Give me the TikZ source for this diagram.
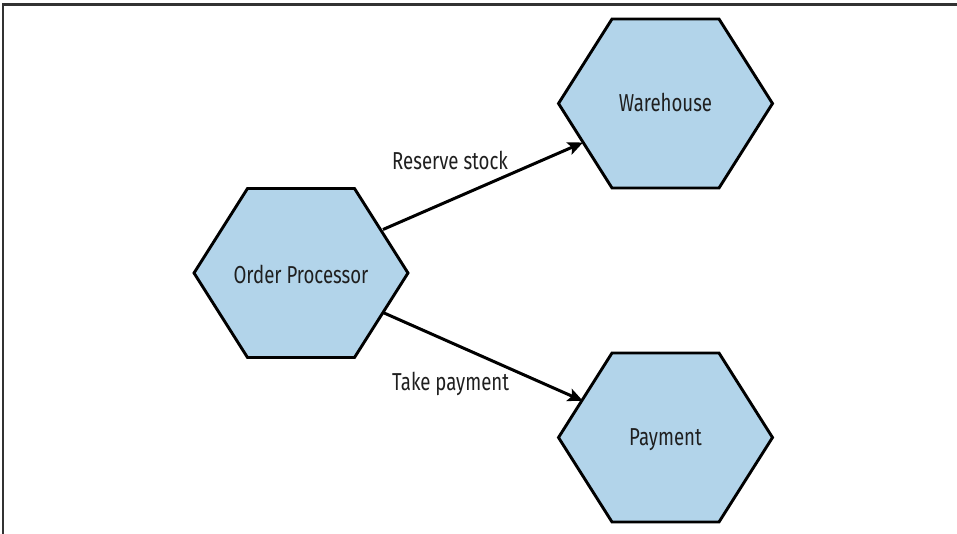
\documentclass[tikz,border=0pt]{standalone}
\usepackage{fontspec}
\setmainfont[FakeStretch=0.76]{Fira Sans}
\usetikzlibrary{arrows.meta}
\definecolor{hexblue}{RGB}{178,212,234}
\definecolor{framegray}{RGB}{50,50,50}
\tikzset{
  hex/.style={draw=black, line width=2.9pt, fill=hexblue, line join=miter},
  lbl/.style={font=\fontsize{24.5}{28}\selectfont, inner sep=0pt, text=black!88},
  conn/.style={line width=3pt, -{Stealth[length=15pt,width=13pt,inset=3pt]}},
  frameline/.style={draw=framegray, line width=2.2pt},
}
\newcommand\hexat[2]{%
  \draw[hex] (#1-107,#2) -- (#1-53.5,#2-84.5) -- (#1+53.5,#2-84.5) -- (#1+107,#2)
    -- (#1+53.5,#2+84.5) -- (#1-53.5,#2+84.5) -- cycle;}
\begin{document}
\begin{tikzpicture}[x=1pt,y=-1pt]
\useasboundingbox (0,0) rectangle (957,534);
% frame
\coordinate (ftr) at (957,4.5);
\coordinate (ftl) at (3,4.5);
\coordinate (fbl) at (3,534);
\draw[frameline] (ftr) -- (ftl) -- (fbl);
% hexagons
\hexat{301}{273}
\hexat{665.5}{103.5}
\hexat{665.5}{437.5}
\node[lbl, anchor=base] (op) at (301,283.5) {Order Processor};
\node[lbl, anchor=base] (wh) at (665.5,112) {Warehouse};
\node[lbl, anchor=base] (pay) at (665.5,445.5) {Payment};
% connector ends on hexagon edges
\coordinate (opNE) at (383,229.5);
\coordinate (opSE) at (383,312.5);
\coordinate (whSW) at (583,142.5);
\coordinate (paySW) at (583,401);
\draw[conn] (opNE) -- (whSW);
\draw[conn] (opSE) -- (paySW);
\node[lbl, anchor=base west] (l1) at (392,169.5) {Reserve stock};
\node[lbl, anchor=base west] (l2) at (392,390) {Take payment};
\end{tikzpicture}
\end{document}
